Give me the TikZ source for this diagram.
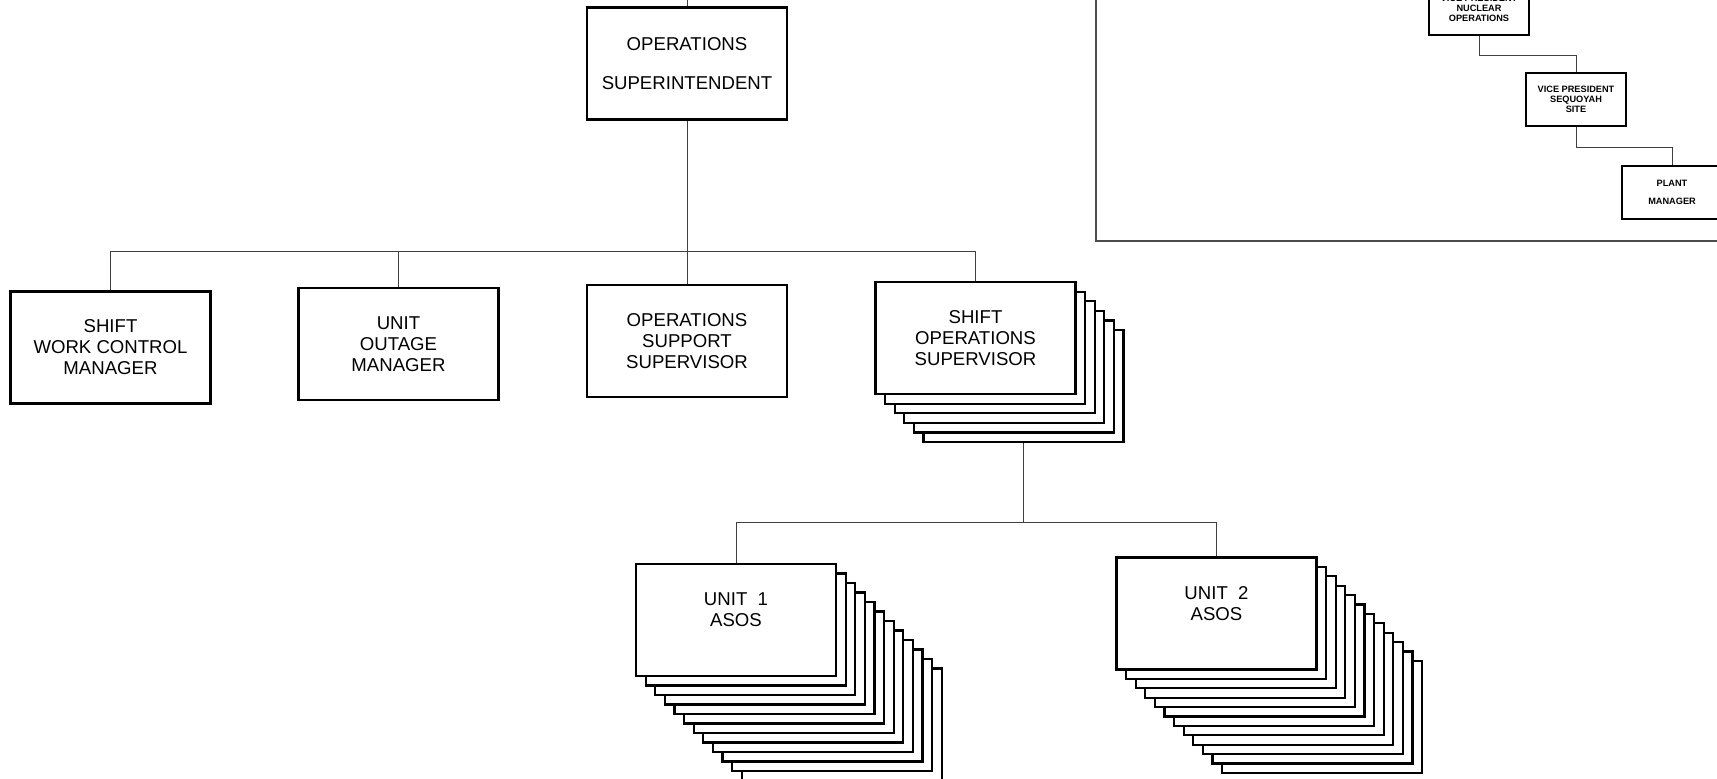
\documentclass[tikz,border=0pt]{standalone}
\usepackage{fontspec}
\setmainfont{Liberation Sans}
\usetikzlibrary{calc}
\tikzset{
    orgbox/.style={
        draw,
        line width=1.1pt,
        fill=white,
        minimum width=100pt,
        minimum height=56pt,
        align=center,
        inner sep=2pt,
        font=\fontsize{9.3}{10.5}\selectfont
    },
    cardbox/.style={
        orgbox
    },
    smallbox/.style={
        draw,
        line width=1pt,
        fill=white,
        minimum width=50pt,
        minimum height=26.5pt,
        align=center,
        inner sep=1pt,
        font=\fontsize{4.6}{5}\selectfont\bfseries
    },
    link/.style={
        draw=black!75,
        line width=0.5pt
    },
    frameline/.style={
        draw=black!70,
        line width=0.6pt
    }
}

\begin{document}
\begin{tikzpicture}[x=0.5pt,y=-0.5pt]
    \useasboundingbox (0,0) rectangle (1717,778);
    \clip (0,0) rectangle (1717,778);

    \node[orgbox] (super) at (687,63.5)
        {OPERATIONS\\[9pt]SUPERINTENDENT};
    \coordinate (upline) at (687,0);

    \node[orgbox] (swc) at (110.5,347.5)
        {SHIFT\\WORK CONTROL\\MANAGER};
    \node[orgbox] (uom) at (398.5,344)
        {UNIT\\OUTAGE\\MANAGER};
    \node[orgbox] (oss) at (687,341)
        {OPERATIONS\\SUPPORT\\SUPERVISOR};
    \foreach \k in {5,4,...,1}
        \node[cardbox] (sos\k) at (975.5+9.6*\k,338+9.6*\k) {};
    \node[cardbox] (sos) at (975.5,338)
        {SHIFT\\OPERATIONS\\SUPERVISOR};

    \foreach \k in {11,10,...,1}
        \node[cardbox] (ua\k) at (736+9.6*\k,620+9.5*\k) {};
    \node[cardbox] (ua) at (736,620)
        {UNIT\ \ 1\\ASOS\\\mbox{}};
    \foreach \k in {11,10,...,1}
        \node[cardbox] (ub\k) at (1216.5+9.6*\k,613.5+9.4*\k) {};
    \node[cardbox] (ub) at (1216.5,613.5)
        {UNIT\ \ 2\\ASOS\\\mbox{}};

    \coordinate (bus) at (687,251);
    \coordinate (bus2) at (1023.5,522);
    \draw[link] (super.north) -- (upline);
    \draw[link] (super) -- (bus);
    \foreach \n in {swc,uom,oss,sos}
        \draw[link] (\n.north) |- (bus);
    \draw[link] (sos5.south) -- (bus2);
    \draw[link] (ua.north) |- (bus2);
    \draw[link] (ub.north) |- (bus2);

    \coordinate (frametop) at (1096,0);
    \coordinate (frameend) at (1717,241);
    \draw[frameline] (frametop) |- (frameend);

    \node[smallbox] (vpn) at (1479,8.5)
        {VICE PRESIDENT\\NUCLEAR\\OPERATIONS};
    \node[smallbox] (vps) at (1576,99.5)
        {VICE PRESIDENT\\SEQUOYAH\\SITE};
    \node[smallbox] (plant) at (1672,192)
        {PLANT\\[4pt]MANAGER};
    \draw[link] (vpn.south) -- ++(0,19) -| (vps.north);
    \draw[link] (vps.south) -- ++(0,20) -| (plant.north);
\end{tikzpicture}
\end{document}
